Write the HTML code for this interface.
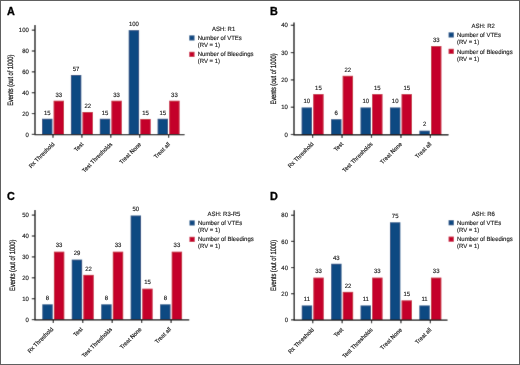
<!DOCTYPE html>
<html><head><meta charset="utf-8"><title>Figure</title>
<style>
html,body{margin:0;padding:0;background:#fff;}
body{width:520px;height:365px;overflow:hidden;position:relative;}
svg{position:absolute;left:0;top:0;display:block;font-family:"Liberation Sans",sans-serif;}
svg .t text{stroke:#222;stroke-width:0.15px;text-rendering:geometricPrecision;}
</style></head><body>
<svg width="520" height="365" viewBox="0 0 520 365">
<defs><filter id="soft" x="0" y="0" width="520" height="365" filterUnits="userSpaceOnUse"><feConvolveMatrix order="3" kernelMatrix="0.012 0.058 0.012 0.058 0.72 0.058 0.012 0.058 0.012" divisor="1" edgeMode="duplicate" preserveAlpha="true"/></filter></defs>
<rect x="0" y="0" width="520" height="365" fill="#fff"/>
<g filter="url(#soft)">
<rect x="0" y="0" width="520" height="365" fill="#fff"/>
<g>
<rect x="42.00" y="118.76" width="10.4" height="15.64" fill="#0f4a82"/>
<rect x="53.60" y="100.73" width="10.4" height="33.67" fill="#c4012b"/>
<line x1="53.00" y1="134.4" x2="53.00" y2="137.8" stroke="#1a1a1a" stroke-width="1.2"/>
<rect x="70.90" y="74.98" width="10.4" height="59.42" fill="#0f4a82"/>
<rect x="82.50" y="111.99" width="10.4" height="22.41" fill="#c4012b"/>
<line x1="81.90" y1="134.4" x2="81.90" y2="137.8" stroke="#1a1a1a" stroke-width="1.2"/>
<rect x="99.80" y="118.76" width="10.4" height="15.64" fill="#0f4a82"/>
<rect x="111.40" y="100.73" width="10.4" height="33.67" fill="#c4012b"/>
<line x1="110.80" y1="134.4" x2="110.80" y2="137.8" stroke="#1a1a1a" stroke-width="1.2"/>
<rect x="128.70" y="30.15" width="10.4" height="104.25" fill="#0f4a82"/>
<rect x="140.30" y="118.97" width="10.4" height="15.43" fill="#c4012b"/>
<line x1="139.70" y1="134.4" x2="139.70" y2="137.8" stroke="#1a1a1a" stroke-width="1.2"/>
<rect x="157.60" y="118.76" width="10.4" height="15.64" fill="#0f4a82"/>
<rect x="169.20" y="100.73" width="10.4" height="33.67" fill="#c4012b"/>
<line x1="168.60" y1="134.4" x2="168.60" y2="137.8" stroke="#1a1a1a" stroke-width="1.2"/>
<line x1="35" y1="25" x2="35" y2="134.9" stroke="#000" stroke-width="1.3"/>
<line x1="34.4" y1="134.65" x2="184.5" y2="134.65" stroke="#000" stroke-width="1.3"/>
<line x1="31.8" y1="134.40" x2="35" y2="134.40" stroke="#1a1a1a" stroke-width="1.15"/>
<line x1="31.8" y1="113.55" x2="35" y2="113.55" stroke="#1a1a1a" stroke-width="1.15"/>
<line x1="31.8" y1="92.70" x2="35" y2="92.70" stroke="#1a1a1a" stroke-width="1.15"/>
<line x1="31.8" y1="71.85" x2="35" y2="71.85" stroke="#1a1a1a" stroke-width="1.15"/>
<line x1="31.8" y1="51.00" x2="35" y2="51.00" stroke="#1a1a1a" stroke-width="1.15"/>
<line x1="31.8" y1="30.15" x2="35" y2="30.15" stroke="#1a1a1a" stroke-width="1.15"/>
<rect x="189.3" y="35.4" width="5.2" height="5.1" fill="#0f4a82"/>
<rect x="189.3" y="51.8" width="5.2" height="5.1" fill="#c4012b"/>
</g>
<g>
<rect x="301.60" y="107.47" width="10.4" height="27.03" fill="#0f4a82"/>
<rect x="313.20" y="94.10" width="10.4" height="40.40" fill="#c4012b"/>
<line x1="312.60" y1="134.5" x2="312.60" y2="137.9" stroke="#1a1a1a" stroke-width="1.2"/>
<rect x="331.05" y="119.21" width="10.4" height="15.29" fill="#0f4a82"/>
<rect x="342.65" y="75.81" width="10.4" height="58.69" fill="#c4012b"/>
<line x1="342.05" y1="134.5" x2="342.05" y2="137.9" stroke="#1a1a1a" stroke-width="1.2"/>
<rect x="360.50" y="107.47" width="10.4" height="27.03" fill="#0f4a82"/>
<rect x="372.10" y="94.10" width="10.4" height="40.40" fill="#c4012b"/>
<line x1="371.50" y1="134.5" x2="371.50" y2="137.9" stroke="#1a1a1a" stroke-width="1.2"/>
<rect x="389.95" y="107.47" width="10.4" height="27.03" fill="#0f4a82"/>
<rect x="401.55" y="94.10" width="10.4" height="40.40" fill="#c4012b"/>
<line x1="400.95" y1="134.5" x2="400.95" y2="137.9" stroke="#1a1a1a" stroke-width="1.2"/>
<rect x="419.40" y="130.68" width="10.4" height="3.82" fill="#0f4a82"/>
<rect x="431.00" y="46.05" width="10.4" height="88.45" fill="#c4012b"/>
<line x1="430.40" y1="134.5" x2="430.40" y2="137.9" stroke="#1a1a1a" stroke-width="1.2"/>
<line x1="294" y1="22.5" x2="294" y2="135.0" stroke="#000" stroke-width="1.3"/>
<line x1="293.4" y1="134.75" x2="448.5" y2="134.75" stroke="#000" stroke-width="1.3"/>
<line x1="290.8" y1="134.50" x2="294" y2="134.50" stroke="#1a1a1a" stroke-width="1.15"/>
<line x1="290.8" y1="107.20" x2="294" y2="107.20" stroke="#1a1a1a" stroke-width="1.15"/>
<line x1="290.8" y1="79.90" x2="294" y2="79.90" stroke="#1a1a1a" stroke-width="1.15"/>
<line x1="290.8" y1="52.60" x2="294" y2="52.60" stroke="#1a1a1a" stroke-width="1.15"/>
<line x1="290.8" y1="25.30" x2="294" y2="25.30" stroke="#1a1a1a" stroke-width="1.15"/>
<rect x="448.6" y="32.4" width="5.2" height="5.1" fill="#0f4a82"/>
<rect x="448.6" y="48.8" width="5.2" height="5.1" fill="#c4012b"/>
</g>
<g>
<rect x="42.30" y="304.34" width="10.4" height="15.26" fill="#0f4a82"/>
<rect x="53.90" y="251.68" width="10.4" height="67.93" fill="#c4012b"/>
<line x1="53.30" y1="319.6" x2="53.30" y2="323.0" stroke="#1a1a1a" stroke-width="1.2"/>
<rect x="71.75" y="259.62" width="10.4" height="59.98" fill="#0f4a82"/>
<rect x="83.35" y="274.87" width="10.4" height="44.73" fill="#c4012b"/>
<line x1="82.75" y1="319.6" x2="82.75" y2="323.0" stroke="#1a1a1a" stroke-width="1.2"/>
<rect x="101.20" y="304.34" width="10.4" height="15.26" fill="#0f4a82"/>
<rect x="112.80" y="251.68" width="10.4" height="67.93" fill="#c4012b"/>
<line x1="112.20" y1="319.6" x2="112.20" y2="323.0" stroke="#1a1a1a" stroke-width="1.2"/>
<rect x="130.65" y="215.52" width="10.4" height="104.08" fill="#0f4a82"/>
<rect x="142.25" y="288.67" width="10.4" height="30.93" fill="#c4012b"/>
<line x1="141.65" y1="319.6" x2="141.65" y2="323.0" stroke="#1a1a1a" stroke-width="1.2"/>
<rect x="160.10" y="304.34" width="10.4" height="15.26" fill="#0f4a82"/>
<rect x="171.70" y="251.68" width="10.4" height="67.93" fill="#c4012b"/>
<line x1="171.10" y1="319.6" x2="171.10" y2="323.0" stroke="#1a1a1a" stroke-width="1.2"/>
<line x1="35" y1="210" x2="35" y2="320.1" stroke="#000" stroke-width="1.3"/>
<line x1="34.4" y1="319.85" x2="189.25" y2="319.85" stroke="#000" stroke-width="1.3"/>
<line x1="31.8" y1="319.60" x2="35" y2="319.60" stroke="#1a1a1a" stroke-width="1.15"/>
<line x1="31.8" y1="298.70" x2="35" y2="298.70" stroke="#1a1a1a" stroke-width="1.15"/>
<line x1="31.8" y1="277.80" x2="35" y2="277.80" stroke="#1a1a1a" stroke-width="1.15"/>
<line x1="31.8" y1="256.90" x2="35" y2="256.90" stroke="#1a1a1a" stroke-width="1.15"/>
<line x1="31.8" y1="236.00" x2="35" y2="236.00" stroke="#1a1a1a" stroke-width="1.15"/>
<line x1="31.8" y1="215.10" x2="35" y2="215.10" stroke="#1a1a1a" stroke-width="1.15"/>
<rect x="189.5" y="220.4" width="5.2" height="5.1" fill="#0f4a82"/>
<rect x="189.5" y="236.8" width="5.2" height="5.1" fill="#c4012b"/>
</g>
<g>
<rect x="301.75" y="305.47" width="10.4" height="14.38" fill="#0f4a82"/>
<rect x="313.35" y="277.62" width="10.4" height="42.23" fill="#c4012b"/>
<line x1="312.75" y1="319.85" x2="312.75" y2="323.25" stroke="#1a1a1a" stroke-width="1.2"/>
<rect x="331.15" y="263.76" width="10.4" height="56.09" fill="#0f4a82"/>
<rect x="342.75" y="291.87" width="10.4" height="27.98" fill="#c4012b"/>
<line x1="342.15" y1="319.85" x2="342.15" y2="323.25" stroke="#1a1a1a" stroke-width="1.2"/>
<rect x="360.55" y="305.47" width="10.4" height="14.38" fill="#0f4a82"/>
<rect x="372.15" y="277.62" width="10.4" height="42.23" fill="#c4012b"/>
<line x1="371.55" y1="319.85" x2="371.55" y2="323.25" stroke="#1a1a1a" stroke-width="1.2"/>
<rect x="389.95" y="222.31" width="10.4" height="97.54" fill="#0f4a82"/>
<rect x="401.55" y="300.37" width="10.4" height="19.48" fill="#c4012b"/>
<line x1="400.95" y1="319.85" x2="400.95" y2="323.25" stroke="#1a1a1a" stroke-width="1.2"/>
<rect x="419.35" y="305.47" width="10.4" height="14.38" fill="#0f4a82"/>
<rect x="430.95" y="277.62" width="10.4" height="42.23" fill="#c4012b"/>
<line x1="430.35" y1="319.85" x2="430.35" y2="323.25" stroke="#1a1a1a" stroke-width="1.2"/>
<line x1="294.2" y1="210.2" x2="294.2" y2="320.35" stroke="#000" stroke-width="1.3"/>
<line x1="293.59999999999997" y1="320.1" x2="447.5" y2="320.1" stroke="#000" stroke-width="1.3"/>
<line x1="291.0" y1="319.85" x2="294.2" y2="319.85" stroke="#1a1a1a" stroke-width="1.15"/>
<line x1="291.0" y1="293.70" x2="294.2" y2="293.70" stroke="#1a1a1a" stroke-width="1.15"/>
<line x1="291.0" y1="267.55" x2="294.2" y2="267.55" stroke="#1a1a1a" stroke-width="1.15"/>
<line x1="291.0" y1="241.40" x2="294.2" y2="241.40" stroke="#1a1a1a" stroke-width="1.15"/>
<line x1="291.0" y1="215.25" x2="294.2" y2="215.25" stroke="#1a1a1a" stroke-width="1.15"/>
<rect x="448.6" y="220.2" width="5.2" height="5.1" fill="#0f4a82"/>
<rect x="448.6" y="236.6" width="5.2" height="5.1" fill="#c4012b"/>
</g>
</g>
<g class="t">
<text transform="translate(47.20 114.56) scale(0.955 1)" font-size="6.25" text-anchor="middle" fill="#1a1a1a" >15</text>
<text transform="translate(58.80 96.53) scale(0.955 1)" font-size="6.25" text-anchor="middle" fill="#1a1a1a" >33</text>
<text transform="translate(76.10 70.78) scale(0.955 1)" font-size="6.25" text-anchor="middle" fill="#1a1a1a" >57</text>
<text transform="translate(87.70 107.79) scale(0.955 1)" font-size="6.25" text-anchor="middle" fill="#1a1a1a" >22</text>
<text transform="translate(105.00 114.56) scale(0.955 1)" font-size="6.25" text-anchor="middle" fill="#1a1a1a" >15</text>
<text transform="translate(116.60 96.53) scale(0.955 1)" font-size="6.25" text-anchor="middle" fill="#1a1a1a" >33</text>
<text transform="translate(133.90 25.95) scale(0.955 1)" font-size="6.25" text-anchor="middle" fill="#1a1a1a" >100</text>
<text transform="translate(145.50 114.77) scale(0.955 1)" font-size="6.25" text-anchor="middle" fill="#1a1a1a" >15</text>
<text transform="translate(162.80 114.56) scale(0.955 1)" font-size="6.25" text-anchor="middle" fill="#1a1a1a" >15</text>
<text transform="translate(174.40 96.53) scale(0.955 1)" font-size="6.25" text-anchor="middle" fill="#1a1a1a" >33</text>
<text transform="translate(28.80 136.55) scale(0.955 1)" font-size="6.25" text-anchor="end" fill="#1a1a1a" >0</text>
<text transform="translate(28.80 115.70) scale(0.955 1)" font-size="6.25" text-anchor="end" fill="#1a1a1a" >20</text>
<text transform="translate(28.80 94.85) scale(0.955 1)" font-size="6.25" text-anchor="end" fill="#1a1a1a" >40</text>
<text transform="translate(28.80 74.00) scale(0.955 1)" font-size="6.25" text-anchor="end" fill="#1a1a1a" >60</text>
<text transform="translate(28.80 53.15) scale(0.955 1)" font-size="6.25" text-anchor="end" fill="#1a1a1a" >80</text>
<text transform="translate(28.80 32.30) scale(0.955 1)" font-size="6.25" text-anchor="end" fill="#1a1a1a" >100</text>
<text transform="translate(12.5,80.20) rotate(-90)" font-size="7.8" text-anchor="middle" textLength="51.2" lengthAdjust="spacingAndGlyphs" fill="#1a1a1a" style="stroke:#1a1a1a;stroke-width:0.25px">Events (out of 1000)</text>
<text transform="translate(54.90,144.70) rotate(-45) scale(0.955 1)" font-size="5.95" text-anchor="end" fill="#1a1a1a">Rx Threshold</text>
<text transform="translate(83.80,144.70) rotate(-45) scale(0.955 1)" font-size="5.95" text-anchor="end" fill="#1a1a1a">Test</text>
<text transform="translate(112.70,144.70) rotate(-45) scale(0.955 1)" font-size="5.95" text-anchor="end" fill="#1a1a1a">Test Thresholds</text>
<text transform="translate(141.60,144.70) rotate(-45) scale(0.955 1)" font-size="5.95" text-anchor="end" fill="#1a1a1a">Treat None</text>
<text transform="translate(170.50,144.70) rotate(-45) scale(0.955 1)" font-size="5.95" text-anchor="end" fill="#1a1a1a">Treat all</text>
<text transform="translate(223.60 30.60) scale(0.955 1)" font-size="6.25" text-anchor="middle" fill="#1a1a1a" >ASH: R1</text>
<text transform="translate(197.70 40.00) scale(0.955 1)" font-size="6.25" text-anchor="start" fill="#1a1a1a" >Number of VTEs</text>
<text transform="translate(197.70 47.10) scale(0.955 1)" font-size="6.25" text-anchor="start" fill="#1a1a1a" >(RV = 1)</text>
<text transform="translate(197.70 56.40) scale(0.955 1)" font-size="6.25" text-anchor="start" fill="#1a1a1a" >Number of Bleedings</text>
<text transform="translate(197.70 63.40) scale(0.955 1)" font-size="6.25" text-anchor="start" fill="#1a1a1a" >(RV = 1)</text>
<text transform="translate(306.80 103.27) scale(0.955 1)" font-size="6.25" text-anchor="middle" fill="#1a1a1a" >10</text>
<text transform="translate(318.40 89.90) scale(0.955 1)" font-size="6.25" text-anchor="middle" fill="#1a1a1a" >15</text>
<text transform="translate(336.25 115.01) scale(0.955 1)" font-size="6.25" text-anchor="middle" fill="#1a1a1a" >6</text>
<text transform="translate(347.85 71.61) scale(0.955 1)" font-size="6.25" text-anchor="middle" fill="#1a1a1a" >22</text>
<text transform="translate(365.70 103.27) scale(0.955 1)" font-size="6.25" text-anchor="middle" fill="#1a1a1a" >10</text>
<text transform="translate(377.30 89.90) scale(0.955 1)" font-size="6.25" text-anchor="middle" fill="#1a1a1a" >15</text>
<text transform="translate(395.15 103.27) scale(0.955 1)" font-size="6.25" text-anchor="middle" fill="#1a1a1a" >10</text>
<text transform="translate(406.75 89.90) scale(0.955 1)" font-size="6.25" text-anchor="middle" fill="#1a1a1a" >15</text>
<text transform="translate(424.60 126.48) scale(0.955 1)" font-size="6.25" text-anchor="middle" fill="#1a1a1a" >2</text>
<text transform="translate(436.20 41.85) scale(0.955 1)" font-size="6.25" text-anchor="middle" fill="#1a1a1a" >33</text>
<text transform="translate(287.80 136.65) scale(0.955 1)" font-size="6.25" text-anchor="end" fill="#1a1a1a" >0</text>
<text transform="translate(287.80 109.35) scale(0.955 1)" font-size="6.25" text-anchor="end" fill="#1a1a1a" >10</text>
<text transform="translate(287.80 82.05) scale(0.955 1)" font-size="6.25" text-anchor="end" fill="#1a1a1a" >20</text>
<text transform="translate(287.80 54.75) scale(0.955 1)" font-size="6.25" text-anchor="end" fill="#1a1a1a" >30</text>
<text transform="translate(287.80 27.45) scale(0.955 1)" font-size="6.25" text-anchor="end" fill="#1a1a1a" >40</text>
<text transform="translate(275.8,79.00) rotate(-90)" font-size="7.8" text-anchor="middle" textLength="51.2" lengthAdjust="spacingAndGlyphs" fill="#1a1a1a" style="stroke:#1a1a1a;stroke-width:0.25px">Events (out of 1000)</text>
<text transform="translate(314.10,144.50) rotate(-45) scale(0.955 1)" font-size="5.95" text-anchor="end" fill="#1a1a1a">Rx Threshold</text>
<text transform="translate(343.55,144.50) rotate(-45) scale(0.955 1)" font-size="5.95" text-anchor="end" fill="#1a1a1a">Test</text>
<text transform="translate(373.00,144.50) rotate(-45) scale(0.955 1)" font-size="5.95" text-anchor="end" fill="#1a1a1a">Test Thresholds</text>
<text transform="translate(402.45,144.50) rotate(-45) scale(0.955 1)" font-size="5.95" text-anchor="end" fill="#1a1a1a">Treat None</text>
<text transform="translate(431.90,144.50) rotate(-45) scale(0.955 1)" font-size="5.95" text-anchor="end" fill="#1a1a1a">Treat all</text>
<text transform="translate(483.20 27.50) scale(0.955 1)" font-size="6.25" text-anchor="middle" fill="#1a1a1a" >ASH: R2</text>
<text transform="translate(456.90 37.10) scale(0.955 1)" font-size="6.25" text-anchor="start" fill="#1a1a1a" >Number of VTEs</text>
<text transform="translate(456.90 44.20) scale(0.955 1)" font-size="6.25" text-anchor="start" fill="#1a1a1a" >(RV = 1)</text>
<text transform="translate(456.90 53.50) scale(0.955 1)" font-size="6.25" text-anchor="start" fill="#1a1a1a" >Number of Bleedings</text>
<text transform="translate(456.90 60.50) scale(0.955 1)" font-size="6.25" text-anchor="start" fill="#1a1a1a" >(RV = 1)</text>
<text transform="translate(47.50 300.14) scale(0.955 1)" font-size="6.25" text-anchor="middle" fill="#1a1a1a" >8</text>
<text transform="translate(59.10 247.48) scale(0.955 1)" font-size="6.25" text-anchor="middle" fill="#1a1a1a" >33</text>
<text transform="translate(76.95 255.42) scale(0.955 1)" font-size="6.25" text-anchor="middle" fill="#1a1a1a" >29</text>
<text transform="translate(88.55 270.67) scale(0.955 1)" font-size="6.25" text-anchor="middle" fill="#1a1a1a" >22</text>
<text transform="translate(106.40 300.14) scale(0.955 1)" font-size="6.25" text-anchor="middle" fill="#1a1a1a" >8</text>
<text transform="translate(118.00 247.48) scale(0.955 1)" font-size="6.25" text-anchor="middle" fill="#1a1a1a" >33</text>
<text transform="translate(135.85 211.32) scale(0.955 1)" font-size="6.25" text-anchor="middle" fill="#1a1a1a" >50</text>
<text transform="translate(147.45 284.47) scale(0.955 1)" font-size="6.25" text-anchor="middle" fill="#1a1a1a" >15</text>
<text transform="translate(165.30 300.14) scale(0.955 1)" font-size="6.25" text-anchor="middle" fill="#1a1a1a" >8</text>
<text transform="translate(176.90 247.48) scale(0.955 1)" font-size="6.25" text-anchor="middle" fill="#1a1a1a" >33</text>
<text transform="translate(28.80 321.75) scale(0.955 1)" font-size="6.25" text-anchor="end" fill="#1a1a1a" >0</text>
<text transform="translate(28.80 300.85) scale(0.955 1)" font-size="6.25" text-anchor="end" fill="#1a1a1a" >10</text>
<text transform="translate(28.80 279.95) scale(0.955 1)" font-size="6.25" text-anchor="end" fill="#1a1a1a" >20</text>
<text transform="translate(28.80 259.05) scale(0.955 1)" font-size="6.25" text-anchor="end" fill="#1a1a1a" >30</text>
<text transform="translate(28.80 238.15) scale(0.955 1)" font-size="6.25" text-anchor="end" fill="#1a1a1a" >40</text>
<text transform="translate(28.80 217.25) scale(0.955 1)" font-size="6.25" text-anchor="end" fill="#1a1a1a" >50</text>
<text transform="translate(15.3,265.30) rotate(-90)" font-size="7.8" text-anchor="middle" textLength="51.2" lengthAdjust="spacingAndGlyphs" fill="#1a1a1a" style="stroke:#1a1a1a;stroke-width:0.25px">Events (out of 1000)</text>
<text transform="translate(53.70,329.70) rotate(-45) scale(0.955 1)" font-size="5.95" text-anchor="end" fill="#1a1a1a">Rx Threshold</text>
<text transform="translate(83.15,329.70) rotate(-45) scale(0.955 1)" font-size="5.95" text-anchor="end" fill="#1a1a1a">Test</text>
<text transform="translate(112.60,329.70) rotate(-45) scale(0.955 1)" font-size="5.95" text-anchor="end" fill="#1a1a1a">Test Thresholds</text>
<text transform="translate(142.05,329.70) rotate(-45) scale(0.955 1)" font-size="5.95" text-anchor="end" fill="#1a1a1a">Treat None</text>
<text transform="translate(171.50,329.70) rotate(-45) scale(0.955 1)" font-size="5.95" text-anchor="end" fill="#1a1a1a">Treat all</text>
<text transform="translate(223.90 215.50) scale(0.955 1)" font-size="6.25" text-anchor="middle" fill="#1a1a1a" >ASH: R3-R5</text>
<text transform="translate(198.00 225.00) scale(0.955 1)" font-size="6.25" text-anchor="start" fill="#1a1a1a" >Number of VTEs</text>
<text transform="translate(198.00 232.10) scale(0.955 1)" font-size="6.25" text-anchor="start" fill="#1a1a1a" >(RV = 1)</text>
<text transform="translate(198.00 241.40) scale(0.955 1)" font-size="6.25" text-anchor="start" fill="#1a1a1a" >Number of Bleedings</text>
<text transform="translate(198.00 248.40) scale(0.955 1)" font-size="6.25" text-anchor="start" fill="#1a1a1a" >(RV = 1)</text>
<text transform="translate(306.95 301.27) scale(0.955 1)" font-size="6.25" text-anchor="middle" fill="#1a1a1a" >11</text>
<text transform="translate(318.55 273.42) scale(0.955 1)" font-size="6.25" text-anchor="middle" fill="#1a1a1a" >33</text>
<text transform="translate(336.35 259.56) scale(0.955 1)" font-size="6.25" text-anchor="middle" fill="#1a1a1a" >43</text>
<text transform="translate(347.95 287.67) scale(0.955 1)" font-size="6.25" text-anchor="middle" fill="#1a1a1a" >22</text>
<text transform="translate(365.75 301.27) scale(0.955 1)" font-size="6.25" text-anchor="middle" fill="#1a1a1a" >11</text>
<text transform="translate(377.35 273.42) scale(0.955 1)" font-size="6.25" text-anchor="middle" fill="#1a1a1a" >33</text>
<text transform="translate(395.15 218.11) scale(0.955 1)" font-size="6.25" text-anchor="middle" fill="#1a1a1a" >75</text>
<text transform="translate(406.75 296.17) scale(0.955 1)" font-size="6.25" text-anchor="middle" fill="#1a1a1a" >15</text>
<text transform="translate(424.55 301.27) scale(0.955 1)" font-size="6.25" text-anchor="middle" fill="#1a1a1a" >11</text>
<text transform="translate(436.15 273.42) scale(0.955 1)" font-size="6.25" text-anchor="middle" fill="#1a1a1a" >33</text>
<text transform="translate(288.00 322.00) scale(0.955 1)" font-size="6.25" text-anchor="end" fill="#1a1a1a" >0</text>
<text transform="translate(288.00 295.85) scale(0.955 1)" font-size="6.25" text-anchor="end" fill="#1a1a1a" >20</text>
<text transform="translate(288.00 269.70) scale(0.955 1)" font-size="6.25" text-anchor="end" fill="#1a1a1a" >40</text>
<text transform="translate(288.00 243.55) scale(0.955 1)" font-size="6.25" text-anchor="end" fill="#1a1a1a" >60</text>
<text transform="translate(288.00 217.40) scale(0.955 1)" font-size="6.25" text-anchor="end" fill="#1a1a1a" >80</text>
<text transform="translate(275.8,265.52) rotate(-90)" font-size="7.8" text-anchor="middle" textLength="51.2" lengthAdjust="spacingAndGlyphs" fill="#1a1a1a" style="stroke:#1a1a1a;stroke-width:0.25px">Events (out of 1000)</text>
<text transform="translate(314.25,330.25) rotate(-45) scale(0.955 1)" font-size="5.95" text-anchor="end" fill="#1a1a1a">Rx Threshold</text>
<text transform="translate(343.65,330.25) rotate(-45) scale(0.955 1)" font-size="5.95" text-anchor="end" fill="#1a1a1a">Test</text>
<text transform="translate(373.05,330.25) rotate(-45) scale(0.955 1)" font-size="5.95" text-anchor="end" fill="#1a1a1a">Test Thresholds</text>
<text transform="translate(402.45,330.25) rotate(-45) scale(0.955 1)" font-size="5.95" text-anchor="end" fill="#1a1a1a">Treat None</text>
<text transform="translate(431.85,330.25) rotate(-45) scale(0.955 1)" font-size="5.95" text-anchor="end" fill="#1a1a1a">Treat all</text>
<text transform="translate(483.25 215.50) scale(0.955 1)" font-size="6.25" text-anchor="middle" fill="#1a1a1a" >ASH: R6</text>
<text transform="translate(457.00 225.00) scale(0.955 1)" font-size="6.25" text-anchor="start" fill="#1a1a1a" >Number of VTEs</text>
<text transform="translate(457.00 232.10) scale(0.955 1)" font-size="6.25" text-anchor="start" fill="#1a1a1a" >(RV = 1)</text>
<text transform="translate(457.00 241.40) scale(0.955 1)" font-size="6.25" text-anchor="start" fill="#1a1a1a" >Number of Bleedings</text>
<text transform="translate(457.00 248.40) scale(0.955 1)" font-size="6.25" text-anchor="start" fill="#1a1a1a" >(RV = 1)</text>
</g>
<text transform="translate(6.9 14.5) scale(1.05 1)" font-size="10.3" font-weight="bold" fill="#000" style="stroke:#000;stroke-width:0.3px">A</text>
<text transform="translate(270 14.5) scale(1.05 1)" font-size="10.3" font-weight="bold" fill="#000" style="stroke:#000;stroke-width:0.3px">B</text>
<text transform="translate(7.1 199.7) scale(1.05 1)" font-size="10.3" font-weight="bold" fill="#000" style="stroke:#000;stroke-width:0.3px">C</text>
<text transform="translate(270 199.7) scale(1.05 1)" font-size="10.3" font-weight="bold" fill="#000" style="stroke:#000;stroke-width:0.3px">D</text>
<rect x="0" y="0" width="520" height="365" fill="none" stroke="#606060" stroke-width="2"/>
</svg>

</body></html>
